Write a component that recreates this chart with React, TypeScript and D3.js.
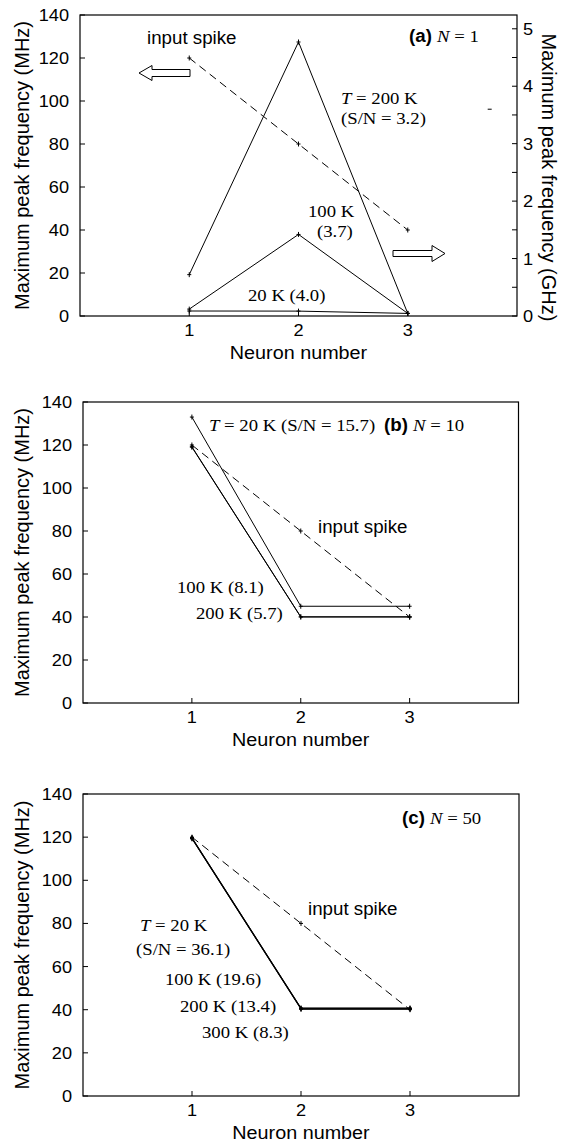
import React from "react";
import * as d3 from "d3";

const W = 561;
const H = 1144;
const SANS = "'Liberation Sans', Arial, Helvetica, sans-serif";
const SERIF = "'Liberation Serif', 'Times New Roman', serif";
const SX = 1.07; // the reference text is slightly wide

// data
const neurons = [1, 2, 3];
const xTicks = [1, 2, 3];
const mhzTicks = [0, 20, 40, 60, 80, 100, 120, 140];
const ghzTicks = [0, 1, 2, 3, 4, 5];
const ghzMinor = [0.5, 1.5, 2.5, 3.5, 4.5];

const inputSpike = [120, 80, 40]; // MHz

// (a) N = 1, outputs on the GHz axis
const aT20 = [0.087, 0.085, 0.045];
const aT100 = [0.12, 1.42, 0.045];
const aT200 = [0.72, 4.77, 0.045];
const aStray = [{ n: 3.75, v: 3.6 }];

// (b) N = 10, MHz
const bT20 = [133, 45, 45];
const bT100 = [119.2, 40.1, 40.1];
const bT200 = [119, 40, 40];

// (c) N = 50, MHz
const cT20 = [119.8, 40.8, 40.8];
const cT100 = [119.6, 40.6, 40.6];
const cT200 = [119.4, 40.4, 40.4];
const cT300 = [119.2, 40.2, 40.2];

function Txt({ x, y, size = 17.5, family = SERIF, anchor = "start", weight = "normal", children }: any) {
  return (
    <text
      transform={`translate(${x},${y}) scale(${SX},1)`}
      fontSize={size}
      fontFamily={family}
      textAnchor={anchor}
      fontWeight={weight}
      fill="#000"
    >
      {children}
    </text>
  );
}

function Arrow({ tail, base, tip, cy, shaft = 3.5, head = 7.5 }: any) {
  const pts = [
    [tail, cy - shaft],
    [base, cy - shaft],
    [base, cy - head],
    [tip, cy],
    [base, cy + head],
    [base, cy + shaft],
    [tail, cy + shaft],
  ];
  return <polygon points={pts.map((p) => p.join(",")).join(" ")} fill="#fff" stroke="#000" strokeWidth={1} />;
}

function Plus({ cx, cy }: any) {
  return (
    <g stroke="#000" strokeWidth={1}>
      <line x1={cx - 2} x2={cx + 2} y1={cy} y2={cy} />
      <line x1={cx} x2={cx} y1={cy - 2.5} y2={cy + 2.5} />
    </g>
  );
}

function Panel({ box, series, rightAxis, children }: any) {
  const x = d3.scaleLinear().domain([0, 4]).range([box.l, box.r]);
  const y = d3.scaleLinear().domain([0, 140]).range([box.b, box.t]);
  const y2 = d3.scaleLinear().domain([0, 5.24]).range([box.b, box.t]);
  const path = (vals: number[], sc: any) =>
    d3.line<number>().x((_, i) => x(neurons[i])).y((d) => sc(d))(vals) as string;
  const midY = (box.t + box.b) / 2;

  return (
    <g>
      <rect x={box.l} y={box.t} width={box.r - box.l} height={box.b - box.t} fill="none" stroke="#000" strokeWidth={1.2} />
      {mhzTicks.map((t) => (
        <g key={"y" + t}>
          <line x1={box.l} x2={box.l + 5} y1={y(t)} y2={y(t)} stroke="#000" />
          <Txt x={box.l - 11} y={y(t) + 6} size={17} family={SANS} anchor="end">{t}</Txt>
        </g>
      ))}
      {xTicks.map((t) => (
        <g key={"x" + t}>
          <line x1={x(t)} x2={x(t)} y1={box.b} y2={box.b - 5} stroke="#000" />
          <Txt x={x(t)} y={box.b + 20} size={17} family={SANS} anchor="middle">{t}</Txt>
        </g>
      ))}
      {rightAxis && (
        <g>
          {ghzTicks.concat(ghzMinor).map((t) => (
            <line key={"r" + t} x1={box.r} x2={box.r - 5} y1={y2(t)} y2={y2(t)} stroke="#000" />
          ))}
          {ghzTicks.map((t) => (
            <Txt key={"rl" + t} x={box.r + 6} y={y2(t) + 6} size={17} family={SANS}>{t}</Txt>
          ))}
          <text transform={`translate(${box.r + 25},${midY + 12}) rotate(90)`} fontSize={20} fontFamily={SANS} textAnchor="middle">
            Maximum peak frequency (GHz)
          </text>
          {aStray.map((p, i) => (
            <line key={"s" + i} x1={x(p.n) - 2} x2={x(p.n) + 2} y1={y2(p.v)} y2={y2(p.v)} stroke="#000" />
          ))}
        </g>
      )}
      <text transform={`translate(29,${midY}) rotate(-90)`} fontSize={20} fontFamily={SANS} textAnchor="middle">
        Maximum peak frequency (MHz)
      </text>
      <Txt x={(box.l + box.r) / 2} y={box.b + 43} size={18.5} family={SANS} anchor="middle">Neuron number</Txt>

      {series.map((s: any, si: number) => {
        const sc = s.axis === "ghz" ? y2 : y;
        return (
          <g key={"s" + si}>
            <path d={path(s.values, sc)} fill="none" stroke="#000" strokeWidth={1} strokeDasharray={s.dashed ? "8 5" : undefined} />
            {s.values.map((v: number, i: number) => (
              <Plus key={i} cx={x(neurons[i])} cy={sc(v)} />
            ))}
          </g>
        );
      })}
      {children}
    </g>
  );
}

const boxA = { l: 80, r: 517, t: 15, b: 316 };
const boxB = { l: 83, r: 518.5, t: 402, b: 703 };
const boxC = { l: 83, r: 519, t: 794, b: 1096 };

export default function App() {
  return (
    <svg width={W} height={H} style={{ position: "absolute", left: 0, top: 0, background: "#fff" }}>
      <Panel
        box={boxA}
        rightAxis
        series={[
          { values: inputSpike, axis: "mhz", dashed: true },
          { values: aT200, axis: "ghz" },
          { values: aT100, axis: "ghz" },
          { values: aT20, axis: "ghz" },
        ]}
      >
        <Txt x={147} y={44} family={SANS}>input spike</Txt>
        <Arrow tail={190} base={152} tip={139} cy={73} />
        <Arrow tail={393} base={432} tip={445} cy={253.5} shaft={3} head={8} />
        <Txt x={409} y={42}>
          <tspan fontFamily={SANS} fontWeight="bold">(a) </tspan>
          <tspan fontStyle="italic">N</tspan> = 1
        </Txt>
        <Txt x={341} y={104}>
          <tspan fontStyle="italic">T</tspan> = 200 K
        </Txt>
        <Txt x={341} y={124}>(S/N = 3.2)</Txt>
        <Txt x={308} y={217}>100 K</Txt>
        <Txt x={317} y={237}>(3.7)</Txt>
        <Txt x={248} y={301}>20 K (4.0)</Txt>
      </Panel>

      <Panel
        box={boxB}
        series={[
          { values: inputSpike, dashed: true },
          { values: bT20 },
          { values: bT100 },
          { values: bT200 },
        ]}
      >
        <Txt x={209} y={431}>
          <tspan fontStyle="italic">T</tspan> = 20 K (S/N = 15.7)
        </Txt>
        <Txt x={384} y={431}>
          <tspan fontFamily={SANS} fontWeight="bold">(b) </tspan>
          <tspan fontStyle="italic">N</tspan> = 10
        </Txt>
        <Txt x={318} y={533} family={SANS}>input spike</Txt>
        <Txt x={177} y={593}>100 K (8.1)</Txt>
        <Txt x={196} y={619}>200 K (5.7)</Txt>
      </Panel>

      <Panel
        box={boxC}
        series={[
          { values: inputSpike, dashed: true },
          { values: cT20 },
          { values: cT100 },
          { values: cT200 },
          { values: cT300 },
        ]}
      >
        <Txt x={402} y={824}>
          <tspan fontFamily={SANS} fontWeight="bold">(c) </tspan>
          <tspan fontStyle="italic">N</tspan> = 50
        </Txt>
        <Txt x={308} y={915} family={SANS}>input spike</Txt>
        <Txt x={140} y={931}>
          <tspan fontStyle="italic">T</tspan> = 20 K
        </Txt>
        <Txt x={136} y={955}>(S/N = 36.1)</Txt>
        <Txt x={165} y={985}>100 K (19.6)</Txt>
        <Txt x={180} y={1012}>200 K (13.4)</Txt>
        <Txt x={202} y={1038}>300 K (8.3)</Txt>
      </Panel>
    </svg>
  );
}
